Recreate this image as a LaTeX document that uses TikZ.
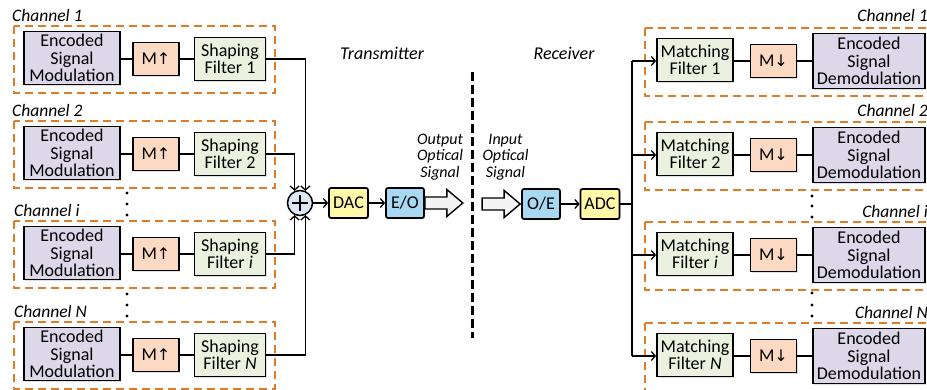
\documentclass[tikz,border=0pt]{standalone}
\usepackage{fontspec}
\setmainfont{Carlito}
\newfontfamily\symfont{DejaVu Sans}
\usetikzlibrary{arrows.meta,shadows}
\definecolor{esmc}{HTML}{DCD8EA}
\definecolor{mc}{HTML}{FCD9C2}
\definecolor{fc}{HTML}{EBF1DE}
\definecolor{sumc}{HTML}{DBE6F2}
\definecolor{yc}{HTML}{FFF8A8}
\definecolor{bc}{HTML}{A9D9F2}
\definecolor{oc}{HTML}{E07B28}
\definecolor{hc}{HTML}{F4F4F4}
\tikzset{
  bx/.style={draw, line width=1.7pt, inner sep=0pt, align=center,
    font=\fontsize{18}{17.5}\selectfont,
    drop shadow={opacity=0.25, shadow xshift=1.2pt, shadow yshift=-1.2pt}},
  esm/.style={bx, fill=esmc, minimum width=96pt, minimum height=53pt},
  mbx/.style={bx, fill=mc, minimum width=46pt, minimum height=33pt},
  fbx/.style={bx, fill=fc, minimum width=71pt, minimum height=43pt},
  mfbx/.style={bx, fill=fc, minimum width=76pt, minimum height=43pt},
  esd/.style={bx, fill=esmc, minimum width=112pt, minimum height=55pt},
  ybx/.style={bx, fill=yc, rounded corners=2pt, minimum width=39pt, minimum height=30pt},
  bbx/.style={bx, fill=bc, rounded corners=2pt, minimum width=38pt, minimum height=30pt},
  chbox/.style={draw=oc, line width=2.8pt, dash pattern=on 8pt off 5pt},
  chlab/.style={font=\fontsize{17.5}{18}\selectfont\itshape, inner sep=0pt},
  conn/.style={line width=1.5pt},
  arr/.style={conn, -{Straight Barb[length=4pt,width=9pt,line width=1.3pt]}},
  hollow/.style={draw, line width=1.4pt, fill=hc, line join=miter},
  lab/.style={font=\fontsize{18}{18}\selectfont\itshape, inner sep=0pt},
  olab/.style={font=\fontsize{16}{16.5}\selectfont\itshape, inner sep=0pt, align=center},
  dotm/.style={fill=black, draw=none}
}
\begin{document}
\begin{tikzpicture}[x=1pt,y=-1pt]
\clip (0,0) rectangle (927,390);
\fill[white] (0,0) rectangle (927,390);
% ---------- Transmitter side ----------
\foreach \r/\n/\fl in {58/1/1, 153/2/2, 253/3/\textit{i}, 354/4/\textit{N}}{
  \draw[chbox] (14,\r-32) rectangle (275,\r+35);
  \node[esm] (esm\n) at (72,\r) {Encoded\\Signal\\Modulation};
  \node[mbx] (mu\n) at (156,\r+1) {M{\symfont\fontsize{16}{16}\selectfont↑}};
  \node[fbx] (sf\n) at (230,\r+1) {Shaping\\Filter \fl};
  \draw[conn] (esm\n.east |- mu\n.west) -- (mu\n.west);
  \draw[conn] (mu\n.east) -- (sf\n.west |- mu\n.east);
}
\node[chlab, anchor=west] (cl1) at (12,15) {Channel 1};
\node[chlab, anchor=west] (cl2) at (12,110) {Channel 2};
\node[chlab, anchor=west] (cl3) at (14,210) {Channel \textit{i}};
\node[chlab, anchor=west] (cl4) at (14,311) {Channel \textit{N}};
\foreach \y in {193,204,215,294,305,316}{\fill[dotm] (127,\y) circle (1.7);}
% summer
\node[draw, circle, line width=1.5pt, fill=sumc, minimum size=25pt, inner sep=0pt] (sum) at (300,203) {};
\draw[line width=1.6pt] (sum.center) ++(-8,0) -- ++(16,0) (sum.center) ++(0,-8) -- ++(0,16);
\draw[arr] (sf1.east) -| (sum.66);
\draw[arr] (sf2.east) -| (sum.114);
\draw[arr] (sf3.east) -| (sum.246);
\draw[arr] (sf4.east) -| (sum.294);
\node[ybx] (dac) at (348.5,203) {DAC};
\node[bbx] (eo) at (405,203) {E/O};
\draw[arr] (sum.east) -- (dac.west);
\draw[arr] (dac.east) -- (eo.west);
\draw[hollow] (eo.east) ++(0,-6) -- ++(22,0) -- ++(0,-7.5) -- ++(16,13.5) -- ++(-16,13.5) -- ++(0,-7.5) -- ++(-22,0) -- cycle;
\node[olab] (outlab) at (440,157) {Output\\Optical\\Signal};
\node[lab] (tx) at (382,53) {Transmitter};
\node[lab] (rx) at (564,53) {Receiver};
\draw[line width=3pt, dash pattern=on 9pt off 4pt] (472,72) -- (472,338);
% ---------- Receiver side ----------
\node[bbx] (oe) at (541,204) {O/E};
\node[ybx] (adc) at (600,204) {ADC};
\draw[hollow] (oe.west) ++(-39,-6) -- ++(22,0) -- ++(0,-7.5) -- ++(16,13.5) -- ++(-16,13.5) -- ++(0,-7.5) -- ++(-22,0) -- cycle;
\node[olab] (inlab) at (505.5,157) {Input\\Optical\\Signal};
\draw[arr] (oe.east) -- (adc.west);
\coordinate (bt) at (632,61);
\coordinate (bb) at (632,356);
\draw[conn] (adc.east) -- (adc.east -| bt);
\draw[conn] (bt) -- (bb);
\foreach \r/\n/\fl in {61/1/1, 155/2/2, 255/3/\textit{i}, 356/4/\textit{N}}{
  \draw[chbox] (645,\r-33) rectangle (945,\r+35);
  \node[mfbx] (mf\n) at (695,\r-1) {Matching\\Filter \fl};
  \node[mbx] (md\n) at (773.5,\r) {M{\symfont\fontsize{16}{16}\selectfont↓}};
  \node[esd] (esd\n) at (869,\r) {Encoded\\Signal\\Demodulation};
  \draw[conn] (mf\n.east |- md\n.west) -- (md\n.west);
  \draw[conn] (md\n.east) -- (esd\n.west |- md\n.east);
  \coordinate (bp\n) at (632,\r);
  \draw[arr] (bp\n) -- (mf\n.west |- bp\n);
}
\node[chlab, anchor=east] (cr1) at (928,15) {Channel 1};
\node[chlab, anchor=east] (cr2) at (928,110) {Channel 2};
\node[chlab, anchor=east] (cr3) at (928,211) {Channel \textit{i}};
\node[chlab, anchor=east] (cr4) at (928,312) {Channel \textit{N}};
\foreach \y in {196,206,217,293,305,316}{\fill[dotm] (812,\y) circle (1.7);}
\end{tikzpicture}
\end{document}
